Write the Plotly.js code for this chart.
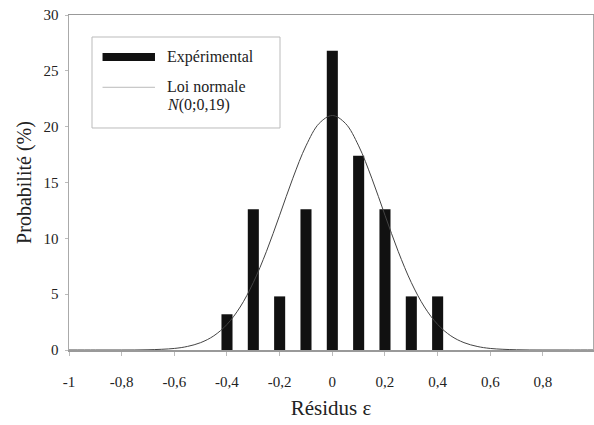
<!DOCTYPE html>
<html>
<head>
<meta charset="utf-8">
<script src="https://cdn.plot.ly/plotly-3.0.1.min.js"></script>
<style>html,body{margin:0;padding:0;background:#fff;overflow:hidden}</style>
</head>
<body>
<div id="chart" style="width:594px;height:425px"></div>
<script>
// Histogram of residuals (experimental), % per class
var barX = [-0.4, -0.3, -0.2, -0.1, 0, 0.1, 0.2, 0.3, 0.4];
var barY = [3.2, 12.6, 4.8, 12.6, 26.8, 17.4, 12.6, 4.8, 4.8];

// Normal law curve
var curveX = [-1, -0.9, -0.8, -0.7, -0.6, -0.55, -0.5, -0.45, -0.4, -0.35, -0.3, -0.25, -0.2, -0.15, -0.1, -0.05, 0,
              0.05, 0.1, 0.15, 0.2, 0.25, 0.3, 0.35, 0.4, 0.45, 0.5, 0.55, 0.6, 0.7, 0.8, 0.9, 1];
var curveY = [0, 0, 0, 0.02, 0.14, 0.32, 0.66, 1.27, 2.29, 3.85, 6.04, 8.84, 12.07, 15.38, 18.28, 20.29, 21.0,
              20.29, 18.28, 15.38, 12.07, 8.84, 6.04, 3.85, 2.29, 1.27, 0.66, 0.32, 0.14, 0.02, 0, 0, 0];

var xTickVals = [-1, -0.8, -0.6, -0.4, -0.2, 0, 0.2, 0.4, 0.6, 0.8, 1];
var xTickText = ['-1', '-0,8', '-0,6', '-0,4', '-0,2', '0', '0,2', '0,4', '0,6', '0,8', '1'];
var yTickVals = [0, 5, 10, 15, 20, 25, 30];
var yTickText = ['0', '5', '10', '15', '20', '25', '30'];

var serif = '"Liberation Serif", "Times New Roman", serif';
var txt = '#222';

var traces = [
  {type: 'bar', x: barX, y: barY, width: 0.042, marker: {color: '#111', line: {width: 0}}, name: 'Expérimental'},
  {type: 'scatter', mode: 'lines', x: curveX, y: curveY, line: {color: '#444', width: 1, shape: 'spline'}, name: 'Loi normale'}
];

var layout = {
  width: 594, height: 425,
  margin: {l: 69, r: 1, t: 15, b: 75},
  showlegend: false,
  paper_bgcolor: '#fff', plot_bgcolor: '#fff',
  font: {family: serif, color: txt, size: 14},
  xaxis: {
    range: [-1, 0.99], tickvals: xTickVals, ticktext: xTickText,
    showgrid: false, zeroline: false, showline: true, mirror: true,
    linecolor: '#999', linewidth: 1.5,
    ticks: 'outside', ticklen: 4, tickcolor: '#bbb', ticklabelstandoff: 13,
    tickfont: {family: serif, size: 15, color: txt},
    title: {text: 'Résidus ε', font: {family: serif, size: 21, color: txt}, standoff: 12}
  },
  yaxis: {
    range: [0, 30], tickvals: yTickVals, ticktext: yTickText,
    showgrid: false, zeroline: false, showline: true, mirror: true,
    linecolor: '#aaa', linewidth: 1.5,
    ticks: 'outside', ticklen: 3, tickcolor: '#bbb', ticklabelstandoff: 3,
    tickfont: {family: serif, size: 15, color: txt},
    title: {text: 'Probabilité (%)', font: {family: serif, size: 20, color: txt}, standoff: 6}
  },
  shapes: [
    {type: 'rect', xref: 'paper', yref: 'paper', x0: 0.0439, x1: 0.4027, y0: 0.6627, y1: 0.9343,
     line: {color: '#bbb', width: 1}, fillcolor: 'rgba(0,0,0,0)'},
    {type: 'rect', xref: 'paper', yref: 'paper', x0: 0.064, x1: 0.1641, y0: 0.8627, y1: 0.8866,
     line: {width: 0}, fillcolor: '#111'},
    {type: 'line', xref: 'paper', yref: 'paper', x0: 0.064, x1: 0.1641, y0: 0.7842, y1: 0.7842,
     line: {color: '#bbb', width: 1}}
  ],
  annotations: [
    {xref: 'paper', yref: 'paper', x: 0.184, y: 0.8755, xanchor: 'left', yanchor: 'middle', showarrow: false,
     text: 'Expérimental', font: {family: serif, size: 16, color: txt}},
    {xref: 'paper', yref: 'paper', x: 0.184, y: 0.786, xanchor: 'left', yanchor: 'middle', showarrow: false,
     text: 'Loi normale', font: {family: serif, size: 16, color: txt}},
    {xref: 'paper', yref: 'paper', x: 0.184, y: 0.7313, xanchor: 'left', yanchor: 'middle', showarrow: false,
     text: '<i>N</i>(0;0,19)', font: {family: serif, size: 16, color: txt}}
  ]
};

Plotly.newPlot('chart', traces, layout, {staticPlot: true, displayModeBar: false});
</script>
</body>
</html>
